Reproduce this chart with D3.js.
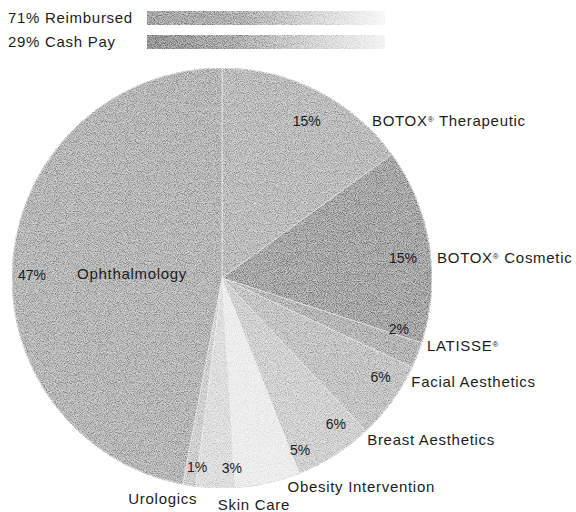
<!DOCTYPE html>
<html>
<head>
<meta charset="utf-8">
<script src="https://cdn.jsdelivr.net/npm/d3@7"></script>
<style>
  html, body { margin: 0; padding: 0; background: #fff; }
  svg { display: block; }
  text { font-family: "Liberation Sans", Arial, Helvetica, sans-serif; fill: #1c1c1c; }
</style>
</head>
<body>
<svg id="chart" width="576" height="512"></svg>
<script>
// ---- data ----
const categories = ["BOTOX® Therapeutic", "BOTOX® Cosmetic", "LATISSE®", "Facial Aesthetics",
  "Breast Aesthetics", "Obesity Intervention", "Skin Care", "Urologics", "Ophthalmology"];
const values = [15, 15, 2, 6, 6, 5, 3, 1, 47];
const legendLabels = ["Reimbursed", "Cash Pay"];
const legendValues = [71, 29];

// ---- styling / layout ----
const sliceColors = ["#bababa", "#a3a3a3", "#b3b3b3", "#c2c2c2", "#cfcfcf", "#ececec", "#dddddd", "#cdcdcd", "#b4b4b4"];
// percent label: angle offset from slice middle (deg), radius
const pctLayout = [[1.4, 178], [2.7, 182], [-5.6, 184], [-4, 187], [-5.6, 185], [-11.8, 189], [-4.8, 190], [-1.5, 191], [-4.4, 190]];
// name label: absolute angle (deg), radius, anchor
const nameLayout = [[43.7, 217, "start"], [84.7, 216, "start"], [108.4, 216, "start"], [118.8, 216, "start"],
  [138, 217, "start"], [146.3, 251, "middle"], [172, 229, "middle"], [195, 229, "middle"], [271.6, 145, "start"]];

const svg = d3.select("#chart");
const cx = 222, cy = 278, R = 210;

// defs: grain filter and legend gradients
const defs = svg.append("defs");
const f = defs.append("filter").attr("id", "grain").attr("x", 0).attr("y", 0).attr("width", 1).attr("height", 1)
  .attr("color-interpolation-filters", "sRGB");
f.append("feTurbulence").attr("type", "fractalNoise").attr("baseFrequency", 1.1).attr("numOctaves", 1)
  .attr("seed", 7).attr("result", "n");
f.append("feColorMatrix").attr("in", "n").attr("type", "matrix")
  .attr("values", "1 0 0 0 0  1 0 0 0 0  1 0 0 0 0  0 0 0 0 1").attr("result", "g");
const ct = f.append("feComponentTransfer").attr("in", "g").attr("result", "g2");
["feFuncR", "feFuncG", "feFuncB"].forEach(fn => ct.append(fn).attr("type", "linear").attr("slope", 2.2).attr("intercept", -0.55));
f.append("feBlend").attr("in", "g2").attr("in2", "SourceGraphic").attr("mode", "soft-light").attr("result", "b");
f.append("feComposite").attr("in", "b").attr("in2", "SourceGraphic").attr("operator", "in");

const legendStops = [
  [["0%", "#a2a2a2"], ["40%", "#afafaf"], ["70%", "#d6d6d6"], ["100%", "#f8f8f8"]],
  [["0%", "#929292"], ["35%", "#a8a8a8"], ["70%", "#d3d3d3"], ["100%", "#f4f4f4"]]
];
legendStops.forEach((stops, i) => {
  const lg = defs.append("linearGradient").attr("id", "lg" + i).attr("x1", 0).attr("x2", 1).attr("y1", 0).attr("y2", 0);
  stops.forEach(s => lg.append("stop").attr("offset", s[0]).attr("stop-color", s[1]));
});

// helper: write a label, rendering ® as a small superscript
function writeLabel(t, str) {
  const parts = str.split("®");
  parts.forEach((p, k) => {
    if (p.length) t.append("tspan").text(p);
    if (k < parts.length - 1) {
      t.append("tspan").attr("baseline-shift", "super").style("font-size", "8px").text("®");
    }
  });
}

// ---- legend ----
const legend = svg.append("g");
legendValues.forEach((v, i) => {
  const y = 18 + i * 24;
  legend.append("text").attr("x", 8).attr("y", y).attr("dy", "0.35em")
    .style("font-size", "15px").style("letter-spacing", "0.7px")
    .text(v + "% " + legendLabels[i]);
  legend.append("rect").attr("x", 147).attr("y", y - 7).attr("width", 238).attr("height", 14)
    .attr("fill", "url(#lg" + i + ")").attr("filter", "url(#grain)");
});

// ---- pie ----
const pie = d3.pie().sort(null).value(d => d)(values);
const arc = d3.arc().innerRadius(0).outerRadius(R);
const g = svg.append("g").attr("transform", `translate(${cx},${cy})`);
g.append("g").attr("filter", "url(#grain)")
  .selectAll("path").data(pie).join("path")
  .attr("d", arc)
  .attr("fill", (d, i) => sliceColors[i])
  .attr("stroke", "#f4f4f4").attr("stroke-width", 0.6);

const rad = deg => deg * Math.PI / 180;
const polar = (deg, r) => [r * Math.sin(rad(deg)), -r * Math.cos(rad(deg))];

// percent labels
g.selectAll("text.pct").data(pie).join("text").attr("class", "pct")
  .attr("transform", (d, i) => {
    const mid = (d.startAngle + d.endAngle) / 2 * 180 / Math.PI + pctLayout[i][0];
    const p = polar(mid, pctLayout[i][1]);
    return `translate(${p[0]},${p[1]})`;
  })
  .attr("text-anchor", "middle").attr("dy", "0.35em")
  .style("font-size", "14px")
  .text(d => d.data + "%");

// name labels
g.selectAll("text.name").data(pie).join("text").attr("class", "name")
  .attr("transform", (d, i) => {
    const p = polar(nameLayout[i][0], nameLayout[i][1]);
    return `translate(${p[0]},${p[1]})`;
  })
  .attr("text-anchor", (d, i) => nameLayout[i][2]).attr("dy", "0.35em")
  .style("font-size", "15px").style("letter-spacing", "0.7px")
  .each(function(d, i) { writeLabel(d3.select(this), categories[i]); });
</script>
</body>
</html>
